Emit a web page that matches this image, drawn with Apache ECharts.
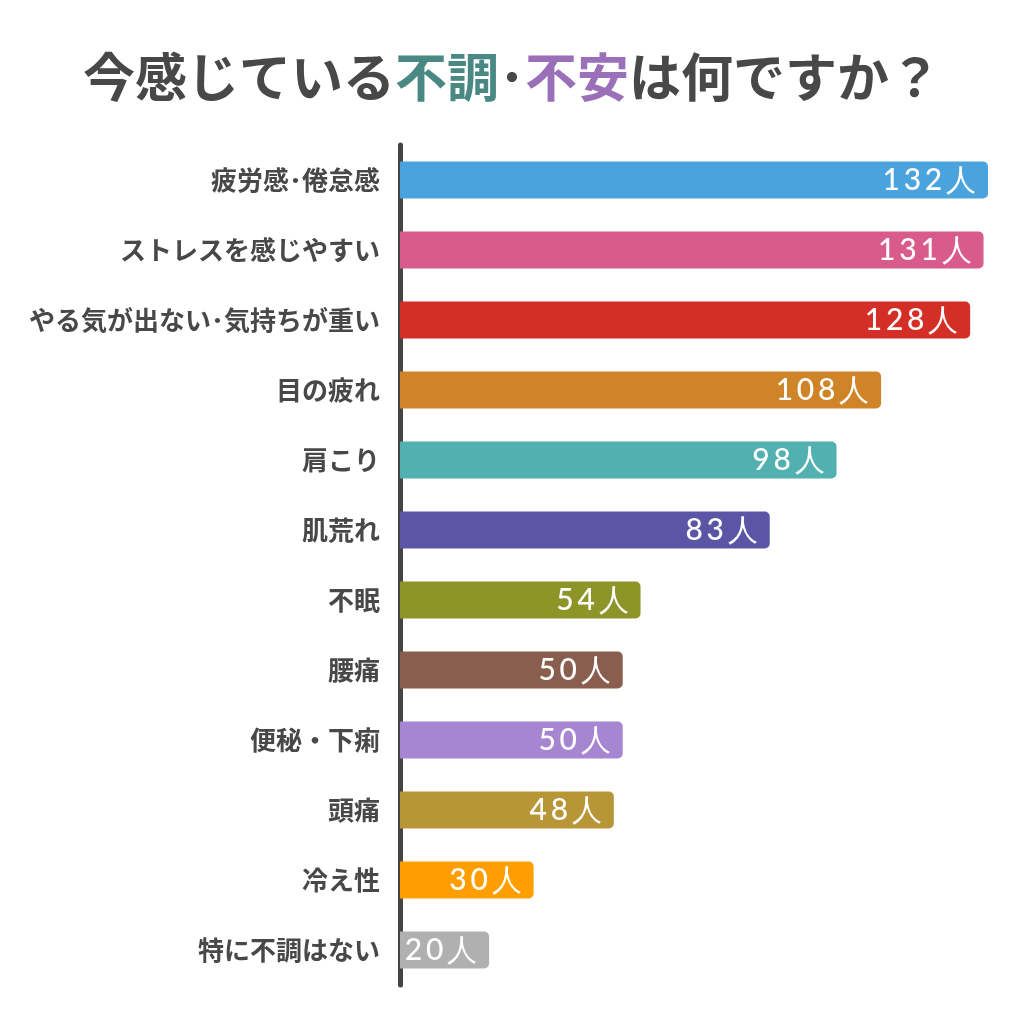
<!DOCTYPE html>
<html><head><meta charset="utf-8">
<script src="https://cdn.jsdelivr.net/npm/echarts@6/dist/echarts.min.js"></script>
<style>html,body{margin:0;padding:0;background:#fff}#c{width:1024px;height:1024px}</style>
</head><body><div id="c"></div>
<script>
const categories = ["疲労感･倦怠感","ストレスを感じやすい","やる気が出ない･気持ちが重い","目の疲れ","肩こり","肌荒れ","不眠","腰痛","便秘・下痢","頭痛","冷え性","特に不調はない"];
const values = [132,131,128,108,98,83,54,50,50,48,30,20];
const colors = ["#4aa3dc","#d95b8c","#d42f27","#d08428","#52b0b0","#5a55a5","#8d9529","#8a5e4e","#a685d1","#b89638","#ff9e00","#b0b0b0"];
const unit = "人";

const chart = echarts.init(document.getElementById('c'), null, {renderer:'canvas'});
chart.setOption({
  backgroundColor:'#fff',
  animation:false,
  title:{
    text:'{a|今感じている}{b|不調}{a|･}{c|不安}{a|は何ですか？}',
    left:'center', top:46,
    textStyle:{rich:{
      a:{fontSize:52,fontWeight:'bold',color:'#484848',fontFamily:'Noto Sans CJK JP'},
      b:{fontSize:52,fontWeight:'bold',color:'#4a8884',fontFamily:'Noto Sans CJK JP'},
      c:{fontSize:52,fontWeight:'bold',color:'#9a70b8',fontFamily:'Noto Sans CJK JP'}
    }}
  },
  grid:{left:400,right:36,top:145,height:840,containLabel:false},
  xAxis:{type:'value',min:0,max:132,show:false},
  yAxis:{
    type:'category',inverse:true,data:categories,offset:2,
    axisLine:{show:true,lineStyle:{color:'#444',width:5,cap:'round'}},
    axisTick:{show:false},
    axisLabel:{margin:18,fontSize:26,fontWeight:'bold',color:'#484848',fontFamily:'Noto Sans CJK JP'}
  },
  series:[{
    type:'bar',barWidth:37,
    data:values.map((v,i)=>({value:v,itemStyle:{color:colors[i]}})),
    itemStyle:{borderRadius:[0,5,5,0]},
    label:{show:true,position:'insideRight',distance:12,color:'#fff',fontSize:30,fontWeight:500,fontFamily:'Lato',
      formatter:p=>String(p.value).split('').join('\u2009')+'\u2009'+unit}
  }]
});
</script></body></html>
